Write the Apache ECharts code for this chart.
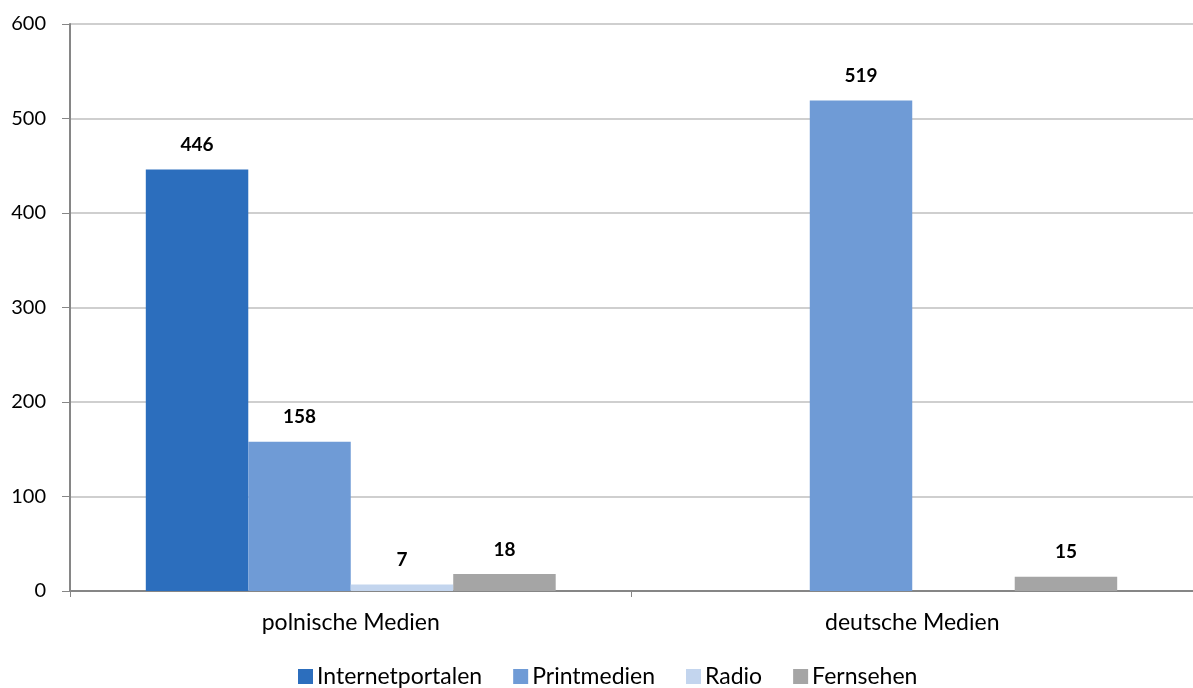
<!DOCTYPE html>
<html>
<head>
<meta charset="utf-8">
<script src="https://cdn.jsdelivr.net/npm/echarts@6/dist/echarts.min.js"></script>
<style>
  html, body { margin: 0; padding: 0; background: #fff; }
  #chart { width: 1193px; height: 688px; }
</style>
</head>
<body>
<div id="chart"></div>
<script>
// Media categories on the x axis
const categories = ['polnische Medien', 'deutsche Medien'];

// Counts per media type (null = no bar)
const internetportalen = [446, null];
const printmedien = [158, 519];
const radio = [7, null];
const fernsehen = [18, 15];

const seriesNames = ['Internetportalen', 'Printmedien', 'Radio', 'Fernsehen'];
const seriesData = [internetportalen, printmedien, radio, fernsehen];
const seriesColors = ['#2C6EBD', '#6F9BD6', '#C3D5EE', '#A5A5A5'];

const FONT = 'Lato, "Open Sans", sans-serif';

const chart = echarts.init(document.getElementById('chart'), null, { renderer: 'canvas' });

chart.setOption({
  animation: false,
  textStyle: { fontFamily: FONT },
  grid: { left: 70, right: 0, top: 24, bottom: 97 },
  legend: {
    bottom: 0,
    left: 298,
    padding: 0,
    itemWidth: 15,
    itemHeight: 15,
    itemGap: 31,
    icon: 'rect',
    textStyle: { fontFamily: FONT, fontSize: 23, color: '#000', padding: [0, 0, 0, -1] },
    data: seriesNames
  },
  xAxis: {
    type: 'category',
    data: categories,
    axisLine: { lineStyle: { color: '#868686', width: 2 } },
    axisTick: { show: true, length: 6, lineStyle: { color: '#868686', width: 1 } },
    axisLabel: { color: '#000', fontSize: 23, fontFamily: FONT, margin: 20 },
    splitLine: { show: false }
  },
  yAxis: {
    type: 'value',
    min: 0,
    max: 600,
    interval: 100,
    axisLine: { show: true, lineStyle: { color: '#868686', width: 2 } },
    axisTick: { show: true, length: 8, lineStyle: { color: '#868686', width: 1 } },
    axisLabel: { color: '#000', fontSize: 20, fontFamily: FONT, margin: 24 },
    splitLine: { lineStyle: { color: '#CFCFCF', width: 2 } }
  },
  series: seriesNames.map((name, i) => ({
    name: name,
    type: 'bar',
    data: seriesData[i],
    barGap: '0%',
    barCategoryGap: '27%',
    itemStyle: { color: seriesColors[i] },
    label: {
      show: true,
      position: 'top',
      distance: 15,
      color: '#000',
      fontWeight: 'bold',
      fontSize: 19,
      fontFamily: FONT
    }
  }))
});
</script>
</body>
</html>
